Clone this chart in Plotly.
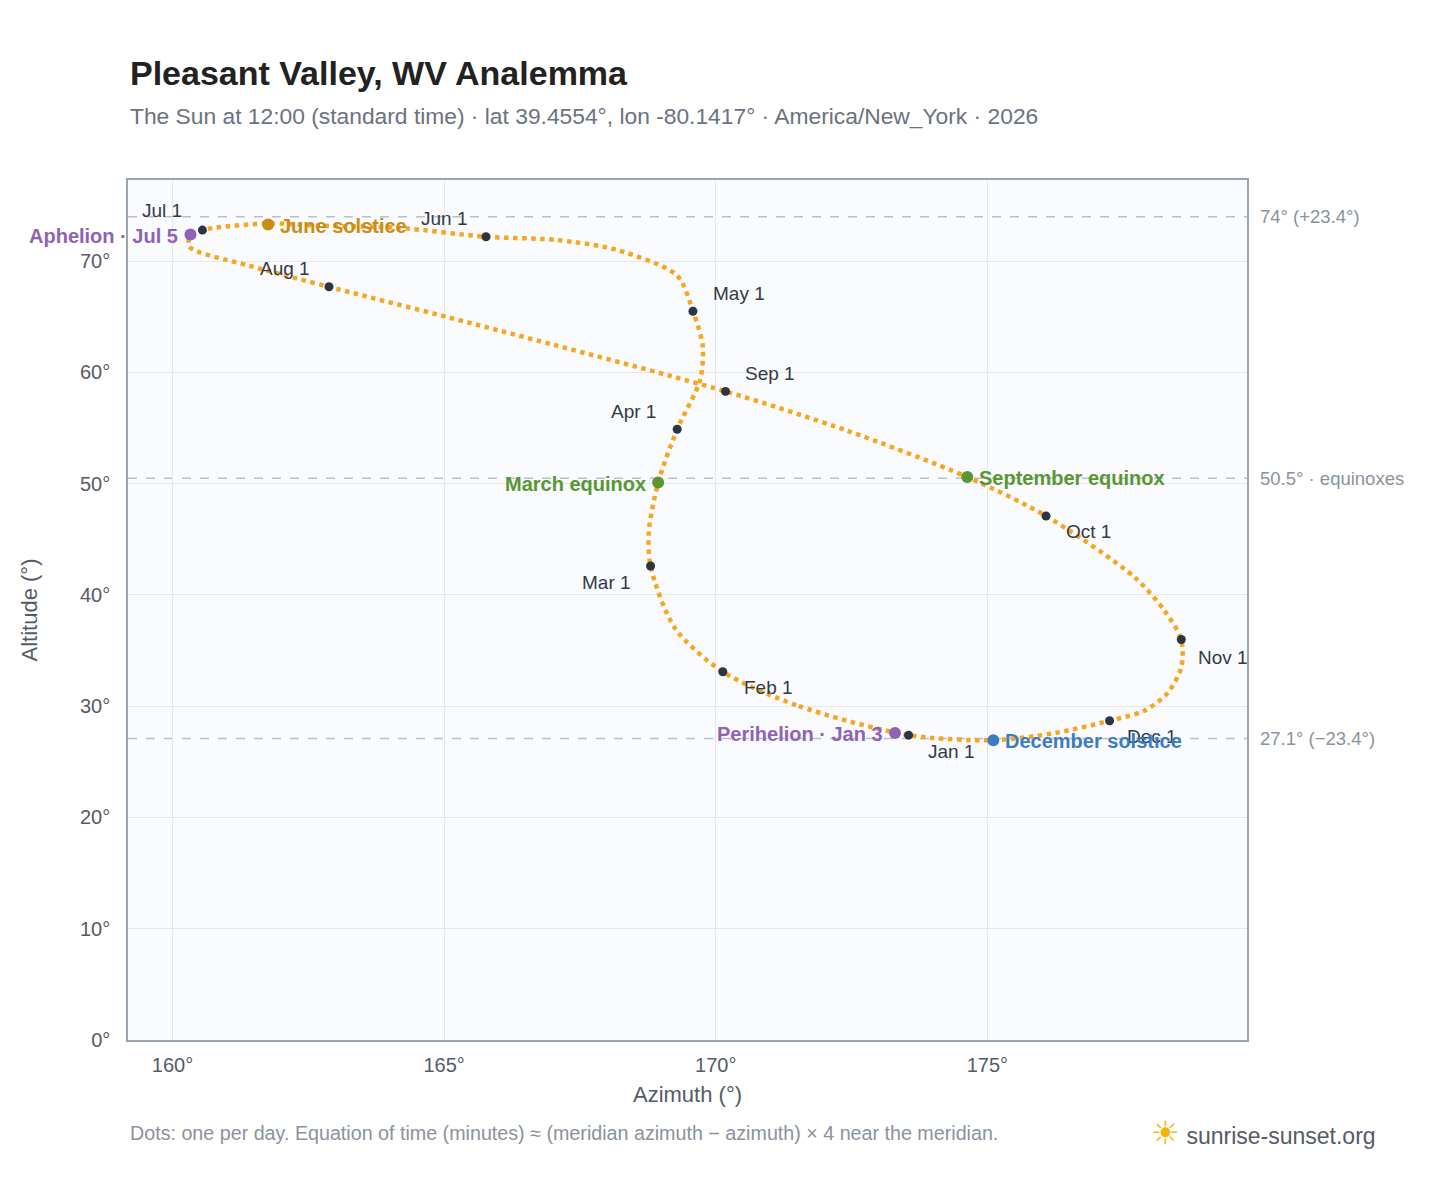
import plotly.graph_objects as go

# Sun position at noon (azimuth, altitude in degrees)
dates = ["Jan 1", "Jan 15", "Feb 1", "Feb 15", "Mar 1", "Mar 10", "Mar 20", "Apr 1",
         "Apr 15", "Apr 22", "May 1", "May 10", "May 18", "May 25", "Jun 1", "Jun 8",
         "Jun 15", "Jun 21", "Jun 28", "Jul 1", "Jul 5", "Jul 10", "Jul 18", "Aug 1",
         "Aug 15", "Sep 1", "Sep 12", "Sep 22", "Oct 1", "Oct 15", "Oct 25", "Nov 1",
         "Nov 8", "Nov 16", "Nov 24", "Dec 1", "Dec 10", "Dec 21", "Jan 1"]
azimuth = [173.55, 171.48, 170.13, 169.25, 168.80, 168.77, 168.94, 169.29,
           169.71, 169.76, 169.58, 169.29, 168.19, 167.09, 165.77, 164.16,
           162.69, 161.76, 160.77, 160.55, 160.33, 160.31, 161.41, 162.88,
           165.99, 170.18, 172.40, 174.63, 176.08, 177.71, 178.26, 178.57,
           178.57, 178.32, 177.89, 177.25, 176.25, 175.11, 173.55]
altitude = [27.4, 30.1, 33.1, 37.0, 42.6, 45.8, 50.1, 54.9,
            59.3, 62.4, 65.5, 68.7, 71.0, 71.9, 72.2, 73.0,
            73.2, 73.4, 73.0, 72.8, 72.4, 71.3, 69.6, 67.7,
            63.8, 58.3, 54.8, 50.6, 47.1, 41.6, 38.6, 36.0,
            33.5, 31.2, 29.6, 28.7, 27.6, 26.95, 27.4]

month_labels = ["Jan 1", "Feb 1", "Mar 1", "Apr 1", "May 1", "Jun 1",
                "Jul 1", "Aug 1", "Sep 1", "Oct 1", "Nov 1", "Dec 1"]
month_az = [173.55, 170.13, 168.80, 169.29, 169.58, 165.77,
            160.55, 162.88, 170.18, 176.08, 178.57, 177.25]
month_alt = [27.4, 33.1, 42.6, 54.9, 65.5, 72.2, 72.8, 67.7, 58.3, 47.1, 36.0, 28.7]
# label offsets in px (ax, ay)
month_off = [(42, 16), (46, 16), (-44, 16), (-44, -18), (46, -18), (-42, -18),
             (-40, -20), (-44, -18), (44, -18), (42, 16), (42, 18), (42, 16)]

events = ["Aphelion · Jul 5", "June solstice", "March equinox",
          "September equinox", "Perihelion · Jan 3", "December solstice"]
event_az = [160.33, 161.76, 168.94, 174.63, 173.30, 175.11]
event_alt = [72.4, 73.3, 50.1, 50.6, 27.6, 26.95]
event_colors = ["#8e63b5", "#c98d12", "#5a9632", "#5a9632", "#8e63b5", "#3d7cc0"]
event_side = ["left", "right", "left", "right", "left", "right"]

ref_alt = [74.0, 50.5, 27.1]
ref_text = ["74° (+23.4°)", "50.5° · equinoxes", "27.1° (−23.4°)"]

x_ticks = [160, 165, 170, 175]
y_ticks = [0, 10, 20, 30, 40, 50, 60, 70]

fig = go.Figure()
fig.add_trace(go.Scatter(
    x=azimuth, y=altitude, mode="lines", line_shape="spline",
    line=dict(color="#f5a623", width=4.5, dash="dot", smoothing=0.8), hoverinfo="skip"))
fig.add_trace(go.Scatter(
    x=month_az, y=month_alt, mode="markers",
    marker=dict(color="#2f3540", size=9), text=month_labels))
fig.add_trace(go.Scatter(
    x=event_az, y=event_alt, mode="markers",
    marker=dict(color=event_colors, size=12), text=events))

for t, x, y, (ax, ay) in zip(month_labels, month_az, month_alt, month_off):
    fig.add_annotation(x=x, y=y, text=t, showarrow=False, xshift=ax, yshift=-ay,
                       font=dict(size=19, color="#333a44"))

for t, x, y, c, s in zip(events, event_az, event_alt, event_colors, event_side):
    fig.add_annotation(x=x, y=y, text=f"<b>{t}</b>", showarrow=False,
                       xanchor="right" if s == "left" else "left",
                       xshift=-10 if s == "left" else 10, yshift=-1,
                       font=dict(size=20, color=c))

for y, t in zip(ref_alt, ref_text):
    fig.add_shape(type="line", xref="paper", x0=0, x1=1, y0=y, y1=y,
                  line=dict(color="#b9c0cb", width=1.5, dash="dash"), layer="below")
    fig.add_annotation(xref="paper", x=1.01, y=y, text=t, showarrow=False,
                       xanchor="left", font=dict(size=18.5, color="#8a929e"))

fig.add_annotation(xref="paper", yref="paper", x=0, y=1.0, yshift=107,
                   text="<b>Pleasant Valley, WV Analemma</b>", showarrow=False,
                   xanchor="left", yanchor="middle", font=dict(size=34, color="#222222"))
fig.add_annotation(xref="paper", yref="paper", x=0, y=1.0, yshift=64,
                   text="The Sun at 12:00 (standard time) · lat 39.4554°, lon -80.1417° · America/New_York · 2026",
                   showarrow=False, xanchor="left", yanchor="middle",
                   font=dict(size=22.8, color="#6b7280"))
fig.add_annotation(xref="paper", yref="paper", x=0, y=0, yshift=-93,
                   text="Dots: one per day. Equation of time (minutes) ≈ (meridian azimuth − azimuth) × 4 near the meridian.",
                   showarrow=False, xanchor="left", yanchor="middle",
                   font=dict(size=19.7, color="#8a929e"))
fig.add_annotation(xref="paper", yref="paper", x=1.117, y=0, yshift=-93,
                   text="<span style='color:#f5b400;font-size:32px'>☀</span> sunrise-sunset.org",
                   showarrow=False, xanchor="right", yanchor="middle",
                   font=dict(size=23, color="#555b66"))

fig.update_layout(
    width=1432, height=1172, showlegend=False,
    paper_bgcolor="white", plot_bgcolor="#f9fbfe",
    font=dict(family="Liberation Sans, Arial, sans-serif", color="#555b66"),
    margin=dict(l=120, r=193, t=172, b=140),
)
fig.update_xaxes(range=[159.18, 179.78], tickvals=x_ticks,
                 ticktext=[f"{v}°" for v in x_ticks],
                 title=dict(text="Azimuth (°)", font=dict(size=22), standoff=12),
                 tickfont=dict(size=20), gridcolor="#e3e8ef", zeroline=False,
                 showline=True, linecolor="#9aa5b4", linewidth=1.5, mirror=True, ticks="",
                 ticklabelstandoff=6)
fig.update_yaxes(range=[0, 77.3], tickvals=y_ticks,
                 ticktext=[f"{v}°" for v in y_ticks],
                 title=dict(text="Altitude (°)", font=dict(size=22), standoff=36),
                 tickfont=dict(size=20), gridcolor="#e3e8ef", zeroline=False,
                 showline=True, linecolor="#9aa5b4", linewidth=1.5, mirror=True, ticks="",
                 ticklabelstandoff=12)

fig.write_html("out.html")
